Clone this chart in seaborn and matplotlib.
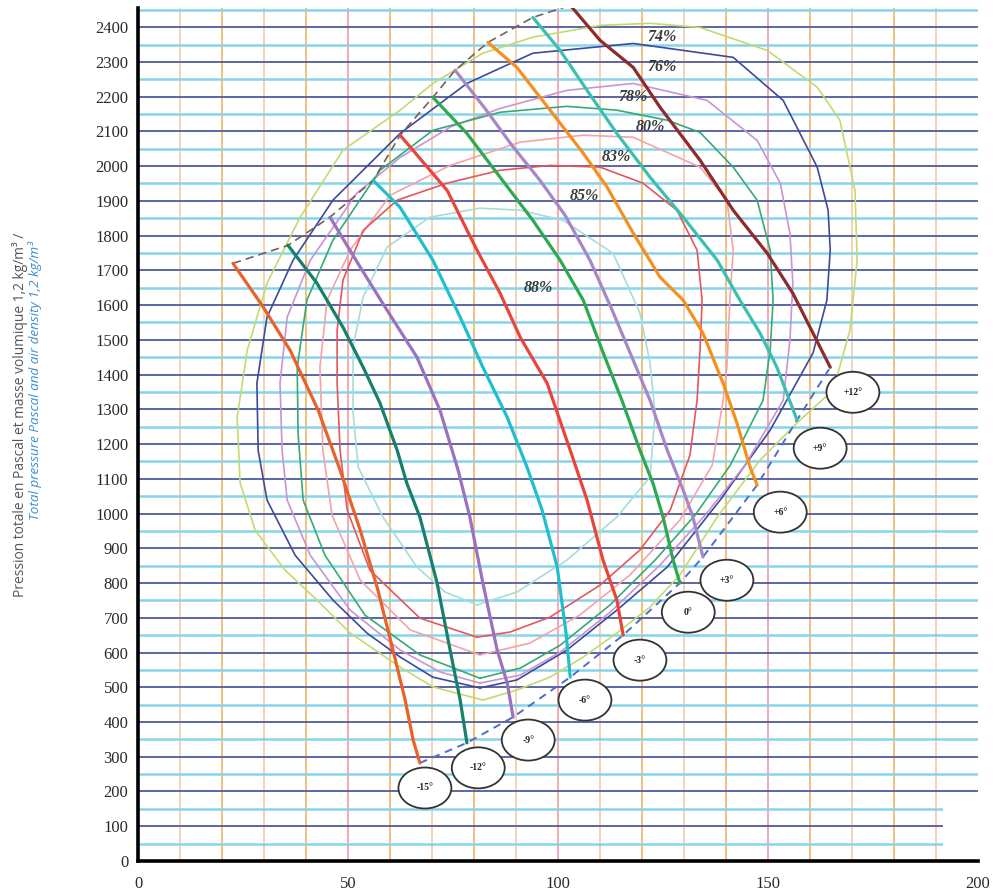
import numpy as np
import matplotlib
matplotlib.use("Agg")
import matplotlib.pyplot as plt
import seaborn as sns
from matplotlib.patches import Ellipse, Rectangle

# blade angle curves (flow, total pressure) from top to bottom end
blade_labels = ["-15°", "-12°", "-9°", "-6°", "-3°", "0°", "+3°", "+6°", "+9°", "+12°"]
blade_colors = ["#E8622A", "#16806A", "#9B72C0", "#1FBFD0", "#E8463A",
                "#2DAA50", "#A787C8", "#F5901E", "#3DBFB0", "#8E2B2B"]

bm15_x = [22.6, 29.5, 36.2, 42.9, 48.1, 52.9, 57.1, 60.7, 63.6, 65.5, 67.1]
bm15_y = [1720, 1600, 1470, 1297, 1125, 952, 780, 607, 463, 348, 282]
bm12_x = [35.7, 42.6, 48.8, 53.6, 57.6, 61.7, 64.0, 67.1, 71.2, 74.3, 76.7, 78.3]
bm12_y = [1772, 1663, 1536, 1421, 1318, 1182, 1087, 990, 800, 607, 463, 340]
bm9_x = [45.7, 52.9, 59.3, 66.4, 71.9, 76.2, 79.0, 82.1, 85.5, 87.9, 89.3]
bm9_y = [1853, 1709, 1585, 1450, 1297, 1125, 990, 800, 607, 512, 414]
bm6_x = [56.0, 62.4, 70.2, 76.7, 82.1, 87.9, 92.6, 96.2, 99.8, 101.9, 102.9]
bm6_y = [1959, 1881, 1729, 1565, 1421, 1277, 1134, 1010, 846, 656, 529]
bm3_x = [62.4, 73.6, 80.7, 86.2, 91.0, 97.4, 102.9, 106.9, 110.7, 114.0, 115.5]
bm3_y = [2089, 1930, 1758, 1634, 1507, 1375, 1182, 1039, 866, 751, 650]
b0_x = [70.2, 78.3, 86.2, 94.0, 100.5, 106.0, 110.5, 115.2, 119.5, 122.6, 125.0, 127.4, 129.0]
b0_y = [2198, 2094, 1968, 1844, 1729, 1614, 1470, 1326, 1182, 1087, 990, 866, 800]
bp3_x = [75.5, 82.6, 89.0, 95.7, 101.7, 107.6, 112.9, 117.9, 121.9, 126.0, 129.8, 132.1, 134.5]
bp3_y = [2276, 2166, 2060, 1959, 1858, 1729, 1585, 1441, 1326, 1182, 1067, 990, 875]
bp6_x = [83.3, 90.2, 98.1, 106.0, 111.7, 117.9, 124.3, 129.8, 134.5, 139.3, 142.6, 145.7, 147.4]
bp6_y = [2356, 2284, 2161, 2037, 1939, 1807, 1680, 1614, 1519, 1375, 1260, 1134, 1082]
bp9_x = [94.0, 100.5, 106.9, 114.0, 121.9, 129.8, 137.9, 143.3, 148.1, 152.1, 156.9]
bp9_y = [2428, 2333, 2218, 2094, 1968, 1853, 1729, 1614, 1519, 1421, 1269]
bp12_x = [102.9, 110.0, 117.9, 124.3, 133.8, 141.7, 149.8, 155.9, 160.0, 164.8]
bp12_y = [2463, 2362, 2284, 2169, 2017, 1873, 1749, 1634, 1536, 1421]

blade_x = [bm15_x, bm12_x, bm9_x, bm6_x, bm3_x, b0_x, bp3_x, bp6_x, bp9_x, bp12_x]
blade_y = [bm15_y, bm12_y, bm9_y, bm6_y, bm3_y, b0_y, bp3_y, bp6_y, bp9_y, bp12_y]

# label bubble centres
bubble_x = [68.3, 81.0, 92.9, 106.4, 119.5, 131.0, 140.2, 152.9, 162.4, 170.2]
bubble_y = [210, 268, 348, 463, 578, 716, 808, 1004, 1188, 1349]

# efficiency iso-lines (closed)
eff_labels = ["74%", "76%", "78%", "80%", "83%", "85%", "88%"]
eff_colors = ["#C3DA70", "#3C4A9C", "#C993D4", "#36AA72", "#F4A3AA", "#E5575A", "#A6DCDC"]
eff_label_x = [124.8, 124.8, 117.9, 121.9, 114.0, 106.2, 95.2]
eff_label_y = [2371, 2284, 2198, 2114, 2025, 1913, 1648]

e74_x = [82.1, 90.2, 98.1, 106.0, 114.0, 121.9, 129.0, 137.9, 148.1, 157.6, 165.5, 169.5, 171.2,
         170.7, 167.1, 161.7, 149.8, 133.8, 121.9, 110.0, 94.0, 82.1, 70.2, 62.4, 48.8, 38.6,
         30.7, 26.0, 23.6, 24.3, 27.9, 35.0, 42.6, 50.5, 62.4, 70.2]
e74_y = [463, 492, 529, 587, 656, 731, 823, 990, 1154, 1269, 1355, 1528, 1729,
         1930, 2132, 2227, 2333, 2399, 2411, 2405, 2371, 2325, 2238, 2161, 2046, 1853,
         1663, 1470, 1277, 1088, 952, 837, 751, 656, 558, 501]
e76_x = [81.4, 90.2, 102.1, 114.0, 126.0, 138.6, 150.5, 160.7, 164.0, 164.8, 164.3, 161.7, 153.6,
         141.7, 117.9, 94.0, 78.3, 62.4, 46.4, 36.9, 30.7, 28.3, 28.6, 30.7, 37.4, 46.4,
         54.5, 62.4, 70.2]
e76_y = [498, 521, 607, 722, 846, 1039, 1240, 1462, 1614, 1758, 1873, 1997, 2189,
         2313, 2353, 2325, 2238, 2094, 1902, 1729, 1565, 1375, 1182, 1039, 880, 751,
         656, 587, 529]
e78_x = [81.4, 91.0, 100.5, 112.4, 124.3, 135.0, 144.5, 153.6, 155.2, 155.9, 155.2, 152.9, 147.4,
         135.5, 117.9, 102.1, 86.2, 74.3, 62.4, 52.1, 41.0, 35.5, 33.8, 34.3, 35.5, 41.0,
         50.5, 62.4, 71.9]
e78_y = [512, 535, 601, 716, 852, 995, 1139, 1326, 1499, 1663, 1807, 1951, 2074,
         2189, 2238, 2218, 2166, 2112, 2025, 1922, 1729, 1565, 1375, 1182, 1039, 880,
         722, 607, 544]
e80_x = [81.4, 91.0, 100.5, 112.4, 123.1, 132.6, 141.0, 148.8, 150.5, 151.2, 150.5, 147.4, 141.7,
         133.8, 126.0, 114.0, 102.1, 86.2, 70.2, 57.6, 46.4, 40.2, 37.9, 38.1, 39.3, 44.5,
         54.0, 67.1]
e80_y = [526, 555, 621, 737, 866, 995, 1139, 1326, 1470, 1614, 1758, 1902, 1997,
         2097, 2132, 2161, 2172, 2155, 2103, 1988, 1787, 1614, 1421, 1231, 1039, 880,
         708, 593]
e83_x = [81.4, 93.3, 105.2, 117.1, 129.0, 136.7, 139.3, 140.2, 140.9, 141.7, 140.2, 133.8, 117.9,
         106.0, 91.0, 74.3, 60.0, 50.5, 45.0, 43.3, 44.0, 46.2, 52.9, 64.8]
e83_y = [593, 627, 708, 823, 981, 1139, 1326, 1421, 1614, 1758, 1902, 1997, 2083,
         2089, 2069, 2002, 1916, 1758, 1614, 1421, 1182, 995, 808, 665]
e85_x = [80.7, 88.6, 98.1, 110.0, 119.5, 126.7, 131.4, 133.1, 133.8, 134.3, 133.1, 128.3, 120.2,
         110.0, 98.1, 86.2, 73.6, 61.7, 53.6, 48.8, 47.4, 47.4, 48.1, 49.8, 55.2, 67.1]
e85_y = [644, 659, 702, 794, 895, 1010, 1168, 1326, 1470, 1614, 1758, 1873, 1951,
         1997, 2002, 1988, 1951, 1902, 1815, 1672, 1528, 1375, 1182, 1010, 837, 699]
e88_x = [80.7, 90.2, 102.1, 114.0, 121.9, 123.1, 121.9, 119.5, 113.1, 101.2, 91.0, 81.4, 69.5,
         59.3, 53.6, 51.2, 51.2, 52.4, 58.3, 66.4, 73.1]
e88_y = [737, 774, 866, 990, 1105, 1289, 1433, 1577, 1749, 1844, 1873, 1879, 1853,
         1767, 1623, 1479, 1289, 1134, 990, 846, 774]

eff_x = [e74_x, e76_x, e78_x, e80_x, e83_x, e85_x, e88_x]
eff_y = [e74_y, e76_y, e78_y, e80_y, e83_y, e85_y, e88_y]

y_ticks = list(range(0, 2401, 100))
x_ticks = [0, 50, 100, 150, 200]

sns.set_style("white")
plt.rcParams["font.family"] = ["Liberation Serif", "DejaVu Serif"]

fig = plt.figure(figsize=(10.01, 8.92), dpi=100)
ax = fig.add_axes([0.1379, 0.0348, 0.8392, 0.9562])
ax.set_xlim(0, 200)
ax.set_ylim(0, 2455)

# background grid
for gx in range(10, 200, 10):
    if gx % 50 == 0:
        c = "#F6A9B2"
    elif gx % 20 == 0:
        c = "#F2C07A"
    else:
        c = "#F6D2B4"
    ax.axvline(gx, color=c, lw=1.4, zorder=0)
for gy in range(50, 2451, 50):
    if gy % 100 == 0:
        ax.axhline(gy, color="#4F5C9C", lw=1.3, zorder=0)
    else:
        ax.axhline(gy, color="#86D4EA", lw=1.8, zorder=0)

# efficiency loops
for xs, ys, col in zip(eff_x, eff_y, eff_colors):
    sns.lineplot(x=np.append(xs, xs[0]), y=np.append(ys, ys[0]), sort=False,
                 estimator=None, color=col, lw=1.2, ax=ax, zorder=2)

for lab, lx, ly in zip(eff_labels, eff_label_x, eff_label_y):
    ax.text(lx, ly, lab, fontsize=11.5, fontweight="bold", fontstyle="italic",
            color="#3A3A3A", ha="center", va="center", zorder=5)

# envelopes
top_x = [xs[0] for xs in blade_x]
top_y = [ys[0] for ys in blade_y]
bot_x = [xs[-1] for xs in blade_x]
bot_y = [ys[-1] for ys in blade_y]
ax.plot(top_x, top_y, ls=(0, (5, 3)), color="#7A5E5E", lw=1.2, zorder=3)
ax.plot(bot_x, bot_y, ls=(0, (4, 3)), color="#4A6FC8", lw=1.4, zorder=3)

# blade angle curves
for xs, ys, col in zip(blade_x, blade_y, blade_colors):
    sns.lineplot(x=xs, y=ys, sort=False, estimator=None, color=col, lw=2.3,
                 ax=ax, zorder=4)

for lab, bx, by in zip(blade_labels, bubble_x, bubble_y):
    ax.add_patch(Ellipse((bx, by), 12.6, 118, facecolor="white",
                         edgecolor="#333333", lw=1.3, zorder=6))
    ax.text(bx, by, lab, fontsize=7, fontweight="bold", color="#222222",
            ha="center", va="center", zorder=7)

# white scan artefact at bottom right
ax.add_patch(Rectangle((0.958, 0.0), 0.05, 0.062, transform=ax.transAxes,
                       facecolor="white", edgecolor="none", zorder=1))

ax.set_xticks(x_ticks)
ax.set_yticks(y_ticks)
ax.tick_params(axis="both", direction="out", length=5, width=2, color="black",
               labelsize=12, labelcolor="#2A2A2A", pad=2)
ax.tick_params(axis="x", pad=6)
for s in ["top", "right"]:
    ax.spines[s].set_visible(False)
for s in ["left", "bottom"]:
    ax.spines[s].set_linewidth(2.6)
    ax.spines[s].set_color("black")
ax.set_xlabel("")
ax.set_ylabel("")

fig.text(0.020, 0.535, "Pression totale en Pascal et masse volumique 1,2 kg/m³ /",
         rotation=90, ha="center", va="center", fontsize=9.9, color="#555555",
         family=["Open Sans", "DejaVu Sans"])
fig.text(0.035, 0.573, "Total pressure Pascal and air density 1,2 kg/m³",
         rotation=90, ha="center", va="center", fontsize=9.7, color="#3C8FD2",
         fontstyle="italic", family=["Open Sans", "DejaVu Sans"])

fig.savefig("out.png", dpi=100)
